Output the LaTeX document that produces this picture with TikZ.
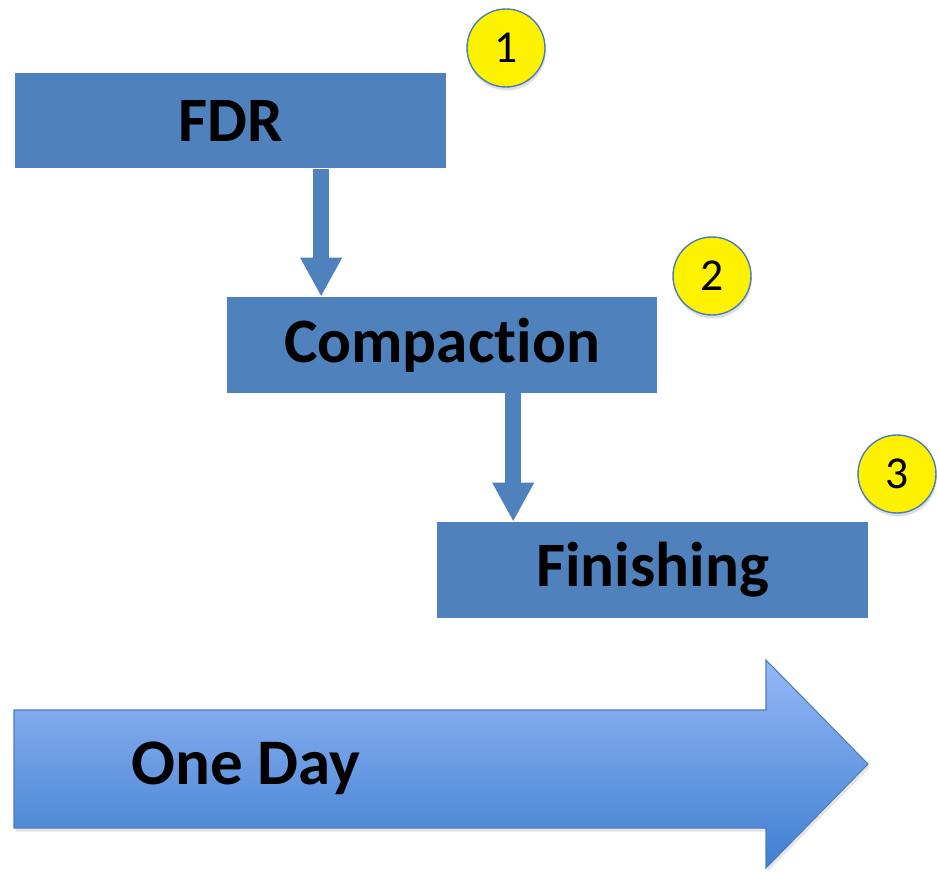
\documentclass[tikz,border=0pt]{standalone}
\usepackage{fontspec}
\setmainfont{Carlito}[Ligatures=NoCommon]
\usetikzlibrary{arrows.meta,calc,shadows}
\definecolor{boxblue}{HTML}{4F81BD}
\definecolor{edgeblue}{HTML}{4A7EBB}
\definecolor{daytop}{HTML}{95B8F6}
\definecolor{daybot}{HTML}{3F7FD0}
\tikzstyle{stage}=[rectangle,fill=boxblue,minimum width=8.62cm,minimum height=1.92cm,font=\fontsize{36}{43}\selectfont\bfseries]
\tikzstyle{badge}=[circle,draw=edgeblue,fill=yellow,line width=0.8pt,minimum size=1.56cm,inner sep=0pt,font=\fontsize{26}{31}\selectfont,drop shadow={opacity=0.25,shadow xshift=0.5pt,shadow yshift=-2pt}]
\tikzstyle{flow}=[draw=boxblue,line width=0.32cm,-{Triangle[width=0.78cm 0 0,length=0.78cm 0 0]}]

\begin{document}
\begin{tikzpicture}[x=0.02cm,y=-0.02cm]
	\useasboundingbox (0,0) rectangle (937,872);
	
	\node[stage] (fdr) at (230.5,120.5) {FDR};
	\node[stage] (compaction) at (442,345) {Compaction};
	\node[stage] (finishing) at (652.5,570) {Finishing};
	
	\node[badge] (n1) at (506,48) {1};
	\node[badge] (n2) at (712,276) {2};
	\node[badge] (n3) at (897,474) {3};
	
	\coordinate (out1) at ($(fdr.south west)!0.71!(fdr.south east)$);
	\coordinate (out2) at ($(compaction.south west)!0.665!(compaction.south east)$);
	\draw[flow] (out1) -- (out1 |- compaction.north);
	\draw[flow] (out2) -- (out2 |- finishing.north);
	
	% time arrow
	\shade[top color=daytop,bottom color=daybot,draw=edgeblue,line width=0.6pt,drop shadow={opacity=0.2,shadow xshift=1pt,shadow yshift=-2pt}]
		(14,710) -- (766,710) -- (766,660) -- (868,764) -- (766,868) -- (766,828) -- (14,828) -- cycle;
	\node[font=\fontsize{37}{44}\selectfont\bfseries] (day) at (246,768) {One Day};
\end{tikzpicture}
\end{document}
